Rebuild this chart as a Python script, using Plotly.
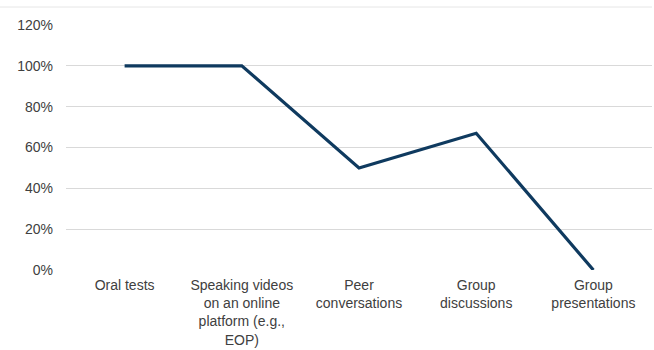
import plotly.graph_objects as go

categories = [
    "Oral tests",
    "Speaking videos<br>on an online<br>platform (e.g.,<br>EOP)",
    "Peer<br>conversations",
    "Group<br>discussions",
    "Group<br>presentations",
]
shares = [1.00, 1.00, 0.50, 0.67, 0.00]
y_ticks = [0, 0.2, 0.4, 0.6, 0.8, 1.0, 1.2]

fig = go.Figure(
    go.Scatter(
        x=categories,
        y=shares,
        mode="lines",
        line=dict(color="#0f3a5f", width=3.2),
        hoverinfo="skip",
    )
)

fig.update_layout(
    width=654,
    height=350,
    margin=dict(l=66, r=2, t=25, b=80),
    paper_bgcolor="white",
    plot_bgcolor="white",
    showlegend=False,
    font=dict(family="Liberation Sans, Arial, sans-serif", size=14, color="#404040"),
)

fig.update_xaxes(
    range=[-0.5, len(categories) - 0.5],
    automargin=False,
    showgrid=False,
    showline=False,
    zeroline=False,
    ticks="",
    tickfont=dict(size=14, color="#404040"),
    tickangle=0,
    ticklabelstandoff=5,
)

fig.update_yaxes(
    range=[0, 1.2],
    automargin=False,
    tickvals=y_ticks,
    tickformat=".0%",
    showgrid=True,
    gridcolor="#d9d9d9",
    gridwidth=1,
    zeroline=False,
    showline=False,
    ticks="",
    ticklabelstandoff=12,
    tickfont=dict(size=14, color="#404040"),
)

# thin border line along the top of the chart area
fig.add_shape(
    type="line",
    xref="paper",
    yref="paper",
    x0=-66 / 586,
    x1=1.0,
    y0=1 + 18 / 245,
    y1=1 + 18 / 245,
    line=dict(color="#e6e6e6", width=1),
)

fig.write_html("out.html")
